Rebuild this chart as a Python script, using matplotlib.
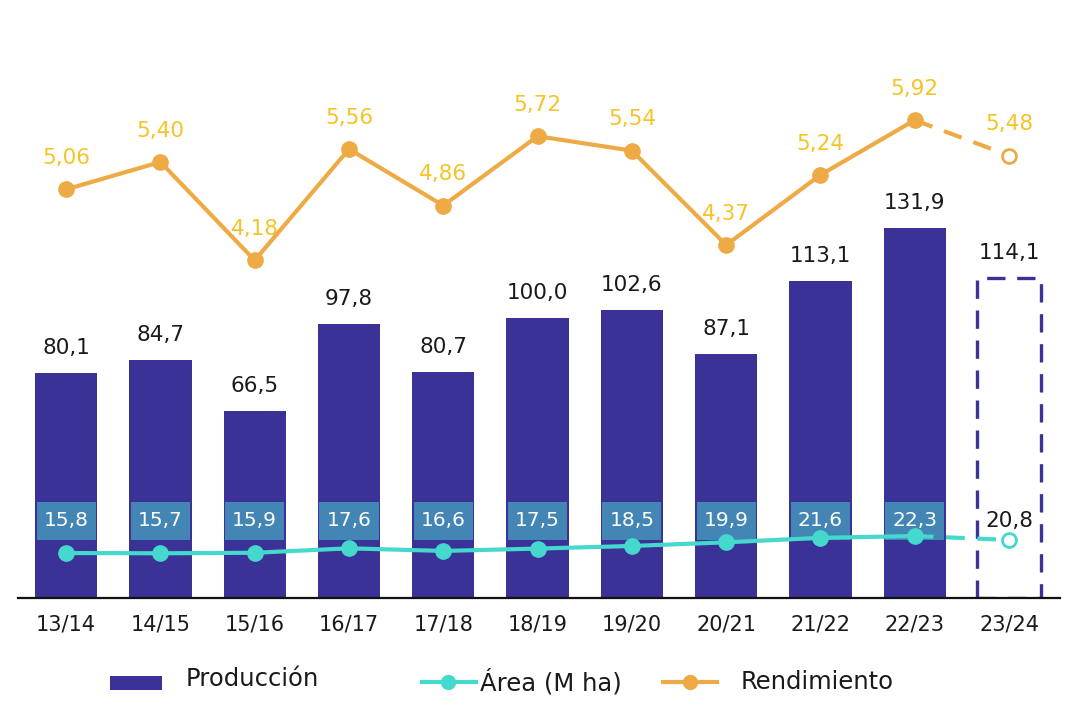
import matplotlib
matplotlib.use('Agg')
import matplotlib.pyplot as plt
import matplotlib.transforms as mtransforms
from matplotlib.patches import Rectangle
from matplotlib.lines import Line2D

plt.rcParams['font.family'] = ['DejaVu Sans']

campanas = ['13/14', '14/15', '15/16', '16/17', '17/18', '18/19', '19/20',
            '20/21', '21/22', '22/23', '23/24']
produccion = [80.1, 84.7, 66.5, 97.8, 80.7, 100.0, 102.6, 87.1, 113.1, 131.9, 114.1]
area = [15.8, 15.7, 15.9, 17.6, 16.6, 17.5, 18.5, 19.9, 21.6, 22.3, 20.8]
rendimiento = [5.06, 5.40, 4.18, 5.56, 4.86, 5.72, 5.54, 4.37, 5.24, 5.92, 5.48]

C_BAR = '#3a3296'
C_BOX = '#4386b6'
C_TEAL = '#45d8cc'
C_ORANGE = '#eeaa45'
C_YELLOW = '#f6c326'
C_TEXT = '#1a1a1a'


def f1(v):
    return f"{v:.1f}".replace('.', ',')


def f2(v):
    return f"{v:.2f}".replace('.', ',')


W, H = 1089, 715
fig = plt.figure(figsize=(W / 100, H / 100), dpi=100)
ax = fig.add_axes([18 / W, 117 / H, 1042 / W, 598 / H])
ax2 = ax.twinx()
ax3 = ax.twinx()

n = len(campanas)
xs = list(range(n))
last = n - 1

# bars
ax.bar(xs[:last], produccion[:last], width=0.66, color=C_BAR, zorder=2)
ax.bar([xs[last]], [produccion[last]], width=0.68, facecolor='none',
       edgecolor=C_BAR, linewidth=2.4, linestyle=(0, (5.5, 3.5)), zorder=2)
for x, v in zip(xs, produccion):
    ax.annotate(f1(v), (x, v), xytext=(0, 18), textcoords='offset points',
                ha='center', va='center', fontsize=15.5, color=C_TEXT)

ax.set_xlim(-0.51, 10.54)
ax.set_ylim(0, 213.2)
ax2.set_ylim(-0.01, 7.41)
ax3.set_ylim(-1.4, 227.3)

# rendimiento
ax2.plot(xs[:last], rendimiento[:last], color=C_ORANGE, lw=3, marker='o',
         ms=11, zorder=4, solid_capstyle='round')
ax2.plot(xs[last - 1:], rendimiento[last - 1:], color=C_ORANGE, lw=3,
         linestyle=(0, (4.5, 3)), zorder=4)
ax2.plot([xs[last]], [rendimiento[last]], marker='o', ms=10, mfc='white',
         mec=C_ORANGE, mew=2, linestyle='none', zorder=5)
for x, v in zip(xs, rendimiento):
    ax2.annotate(f2(v), (x, v), xytext=(0, 22.5), textcoords='offset points',
                 ha='center', va='center', fontsize=15.5, color=C_YELLOW)

# area
ax3.plot(xs[:last], area[:last], color=C_TEAL, lw=3, marker='o', ms=11,
         zorder=4)
ax3.plot(xs[last - 1:], area[last - 1:], color=C_TEAL, lw=3,
         linestyle=(0, (4.5, 3)), zorder=4)
ax3.plot([xs[last]], [area[last]], marker='o', ms=10, mfc='white',
         mec=C_TEAL, mew=2, linestyle='none', zorder=5)
trans = mtransforms.blended_transform_factory(ax3.transData, ax3.transAxes)
for x, v in zip(xs[:last], area[:last]):
    ax3.add_patch(Rectangle((x - 0.313, 0.097), 0.626, 0.0635,
                            transform=trans, facecolor=C_BOX, edgecolor='none',
                            zorder=3))
    ax3.text(x, 0.129, f1(v), transform=trans, ha='center', va='center',
             fontsize=14.5, color='white', zorder=4)
ax3.text(xs[last], 0.129, f1(area[last]), transform=trans, ha='center',
         va='center', fontsize=15.5, color=C_TEXT, zorder=4)

for a in (ax, ax2, ax3):
    for s in ('top', 'right', 'left'):
        a.spines[s].set_visible(False)
    a.set_yticks([])
    a.patch.set_visible(False)
for a in (ax2, ax3):
    a.spines['bottom'].set_visible(False)
ax.spines['bottom'].set_color('#111111')
ax.spines['bottom'].set_linewidth(1.6)
ax.set_xticks(xs)
ax.set_xticklabels(campanas, fontsize=15, color=C_TEXT)
ax.tick_params(axis='x', length=0, pad=12)

# legend
ly = (H - 682) / H
fig.add_artist(Rectangle((110 / W, (H - 690) / H), 52 / W, 14 / H,
                         transform=fig.transFigure, facecolor=C_BAR,
                         edgecolor='none'))
fig.text(186 / W, ly + 0.004, 'Producción', fontsize=17.5, color=C_TEXT,
         va='center', ha='left')
fig.add_artist(Line2D([422 / W, 476 / W], [ly, ly], transform=fig.transFigure,
                      color=C_TEAL, lw=3))
fig.add_artist(Line2D([448 / W], [ly], transform=fig.transFigure,
                      color=C_TEAL, marker='o', ms=10))
fig.text(480 / W, ly, 'Área (M ha)', fontsize=17.5, color=C_TEXT,
         va='center', ha='left')
fig.add_artist(Line2D([663 / W, 717 / W], [ly, ly], transform=fig.transFigure,
                      color=C_ORANGE, lw=3))
fig.add_artist(Line2D([690 / W], [ly], transform=fig.transFigure,
                      color=C_ORANGE, marker='o', ms=10))
fig.text(741 / W, ly, 'Rendimiento', fontsize=17.5, color=C_TEXT,
         va='center', ha='left')

fig.savefig('out.png', dpi=100)
